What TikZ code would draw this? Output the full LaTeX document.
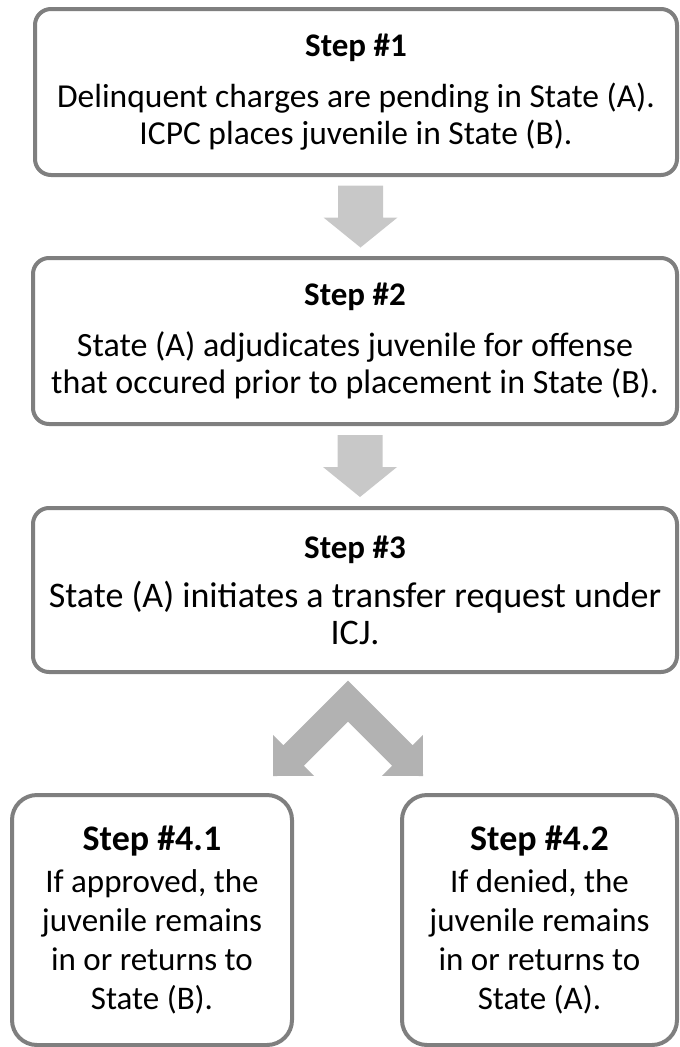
\documentclass[tikz,border=0pt]{standalone}
\usepackage{fontspec}
\setmainfont{Carlito}
\usepackage{tikz}
\usetikzlibrary{calc}
\definecolor{boxgray}{HTML}{7F7F7F}
\definecolor{arrowgray}{HTML}{C8C8C8}
\definecolor{forkgray}{HTML}{B2B2B2}

\tikzset{
  stepbox/.style={draw=boxgray,line width=4pt,rounded corners=16pt,fill=white,
    minimum width=644pt,minimum height=166pt,align=center,inner sep=0pt,
    font=\fontsize{34}{37}\selectfont},
  subbox/.style={draw=boxgray,line width=4pt,rounded corners=25pt,fill=white,
    minimum height=250pt,align=center,inner sep=0pt,
    font=\fontsize{33}{39}\selectfont}
}

\begin{document}
\begin{tikzpicture}[x=1pt,y=-1pt]
   \useasboundingbox (0,0) rectangle (680,1047);

   % upper steps
   \node[stepbox,minimum width=642pt,font=\fontsize{33.5}{37}\selectfont] (s1) at (356,92)
      {{\fontsize{33}{37}\selectfont\bfseries Step \#1}\\[14pt]Delinquent charges are pending in State (A).\\ICPC places juvenile in State (B).};
   \node[stepbox] (s2) at (355,341)
      {{\fontsize{33}{37}\selectfont\bfseries Step \#2}\\[14pt]State (A) adjudicates juvenile for offense\\that occured prior to placement in State (B).};
   \node[stepbox,minimum height=164pt,font=\fontsize{36}{37}\selectfont] (s3) at (355,590)
      {{\fontsize{33}{37}\selectfont\bfseries Step \#3}\\[12pt]State (A) initiates a transfer request under\\ICJ.};

   % outcomes
   \node[subbox,minimum width=280pt] (s41) at (152,920)
      {{\fontsize{36}{39}\selectfont\bfseries Step \#4.1}\\[3pt]If approved, the\\juvenile remains\\in or returns to\\State (B).};
   \node[subbox,minimum width=275pt] (s42) at (539.5,920)
      {{\fontsize{36}{39}\selectfont\bfseries Step \#4.2}\\[3pt]If denied, the\\juvenile remains\\in or returns to\\State (A).};

   % block arrows
   \fill[arrowgray,shift={($(s1.south)!0.5!(s2.north)+(5,0)$)}]
      (-22.5,-31) -- (22.5,-31) -- (22.5,1) -- (37,1) -- (0,31) -- (-37,1) -- (-22.5,1) -- cycle;
   \fill[arrowgray,shift={($(s2.south)!0.5!(s3.north)+(5,0)$)}]
      (-22.5,-31) -- (22.5,-31) -- (22.5,1) -- (37,1) -- (0,31) -- (-37,1) -- (-22.5,1) -- cycle;

   % fork to step 4.1 and 4.2
   \coordinate (fork) at ($(s3.south)+(-7,27)$);
   \fill[forkgray,shift={(fork)}]
      (0,-20.5) -- (-64.7,44.2) -- (-74.9,33.9) -- (-75,75) -- (-33.9,74.9) -- (-44.1,64.7)
      -- (0,20.5) -- (44.1,64.7) -- (33.9,74.9) -- (75,75) -- (74.9,33.9) -- (64.7,44.2) -- cycle;
\end{tikzpicture}
\end{document}
